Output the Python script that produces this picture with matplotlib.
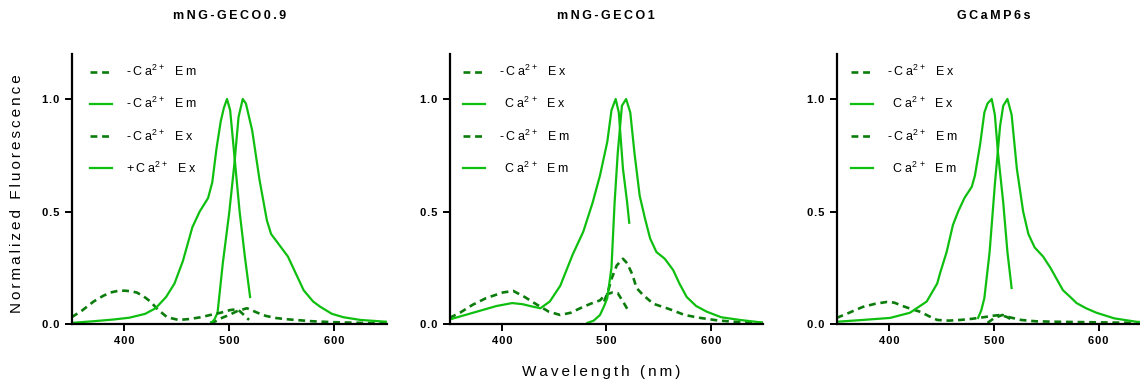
import matplotlib
matplotlib.use("Agg")
import matplotlib.pyplot as plt
import numpy as np

plt.rcParams['font.family'] = ['Liberation Sans', 'DejaVu Sans']
plt.rcParams['mathtext.fontset'] = 'custom'
plt.rcParams['mathtext.rm'] = 'Liberation Sans'
plt.rcParams['mathtext.it'] = 'Liberation Sans:italic'
plt.rcParams['mathtext.bf'] = 'Liberation Sans:bold'

HS = "\u200a"
TS = "\u2009"

def sp(s, gap=HS):
    return gap.join(list(s))

titles = ["mNG-GECO0.9", "mNG-GECO1", "GCaMP6s"]

# ---------------- Panel 1: mNG-GECO0.9 ----------------
p1_dash_ex_x = [350, 360, 371, 380, 387, 395, 401, 407, 412, 418, 425, 432, 441, 452, 462, 473, 482, 492, 501, 508, 513, 519]
p1_dash_ex_y = [0.03, 0.06, 0.10, 0.125, 0.14, 0.148, 0.148, 0.145, 0.14, 0.125, 0.10, 0.065, 0.03, 0.018, 0.022, 0.03, 0.04, 0.05, 0.062, 0.066, 0.045, 0.018]
p1_dash_em_x = [482, 487, 492, 500, 508, 517, 527, 535, 544, 553, 563, 580, 600, 625, 650]
p1_dash_em_y = [0.005, 0.012, 0.025, 0.04, 0.058, 0.07, 0.05, 0.036, 0.027, 0.022, 0.018, 0.012, 0.008, 0.005, 0.003]
p1_ex_x = [350, 370, 390, 405, 420, 430, 440, 448, 456, 465, 472, 480, 484, 488, 492, 495, 498, 501, 505, 510, 515, 520]
p1_ex_y = [0.005, 0.012, 0.02, 0.028, 0.045, 0.07, 0.12, 0.18, 0.28, 0.43, 0.50, 0.56, 0.63, 0.78, 0.90, 0.96, 1.0, 0.95, 0.75, 0.50, 0.30, 0.12]
p1_em_x = [482, 486, 489, 494, 500, 505, 509, 513, 516, 522, 529, 536, 540, 548, 556, 563, 571, 580, 587, 598, 609, 625, 650]
p1_em_y = [0.0, 0.02, 0.05, 0.27, 0.49, 0.71, 0.92, 1.0, 0.98, 0.86, 0.64, 0.46, 0.40, 0.35, 0.30, 0.23, 0.15, 0.10, 0.076, 0.045, 0.03, 0.018, 0.01]

# ---------------- Panel 2: mNG-GECO1 ----------------
p2_dash_ex_x = [350, 360, 372, 385, 401, 411, 422, 434, 445, 456, 466, 475, 485, 494, 499, 506, 511, 516, 521]
p2_dash_ex_y = [0.027, 0.05, 0.085, 0.115, 0.14, 0.147, 0.12, 0.085, 0.055, 0.04, 0.05, 0.07, 0.09, 0.105, 0.13, 0.14, 0.137, 0.10, 0.06]
p2_ex_x = [350, 365, 380, 395, 410, 420, 427, 437, 446, 456, 468, 478, 487, 494, 501, 505, 509, 512, 516, 520, 522]
p2_ex_y = [0.02, 0.04, 0.06, 0.08, 0.093, 0.088, 0.08, 0.07, 0.10, 0.17, 0.31, 0.41, 0.54, 0.66, 0.81, 0.95, 1.0, 0.94, 0.69, 0.54, 0.45]
p2_dash_em_x = [498, 502, 505, 510, 516, 520, 525, 529, 535, 545, 558, 564, 575, 590, 605, 621, 635, 650]
p2_dash_em_y = [0.10, 0.15, 0.20, 0.26, 0.29, 0.27, 0.22, 0.16, 0.13, 0.09, 0.07, 0.06, 0.04, 0.027, 0.017, 0.01, 0.007, 0.005]
p2_em_x = [482, 488, 494, 498, 501, 505, 508, 511, 515, 519, 523, 527, 532, 537, 542, 548, 556, 564, 570, 577, 586, 596, 610, 628, 650]
p2_em_y = [0.005, 0.015, 0.04, 0.08, 0.115, 0.25, 0.54, 0.76, 0.97, 1.0, 0.94, 0.76, 0.57, 0.47, 0.38, 0.32, 0.29, 0.24, 0.18, 0.12, 0.08, 0.055, 0.03, 0.018, 0.006]

# ---------------- Panel 3: GCaMP6s ----------------
p3_dash_ex_x = [350, 362, 375, 387, 398, 405, 413, 421, 430, 438, 446, 457, 468, 479, 490, 500, 506, 512, 517]
p3_dash_ex_y = [0.027, 0.05, 0.076, 0.09, 0.098, 0.095, 0.08, 0.067, 0.054, 0.035, 0.018, 0.015, 0.018, 0.023, 0.03, 0.037, 0.04, 0.032, 0.02]
p3_ex_x = [350, 375, 401, 420, 436, 446, 449, 455, 461, 466, 472, 479, 482, 487, 491, 494, 498, 501, 504, 509, 513, 517]
p3_ex_y = [0.01, 0.018, 0.027, 0.05, 0.10, 0.18, 0.23, 0.32, 0.44, 0.50, 0.56, 0.61, 0.66, 0.80, 0.94, 0.98, 1.0, 0.93, 0.76, 0.54, 0.32, 0.16]
p3_dash_em_x = [494, 500, 508, 515, 526, 540, 560, 590, 620, 650]
p3_dash_em_y = [0.005, 0.025, 0.04, 0.03, 0.018, 0.012, 0.01, 0.008, 0.006, 0.005]
p3_em_x = [485, 488, 491, 496, 501, 506, 509, 513, 517, 522, 528, 533, 539, 547, 554, 560, 566, 573, 579, 588, 598, 615, 636, 650]
p3_em_y = [0.027, 0.06, 0.115, 0.32, 0.62, 0.88, 0.97, 1.0, 0.93, 0.69, 0.50, 0.40, 0.34, 0.30, 0.25, 0.20, 0.15, 0.12, 0.093, 0.07, 0.05, 0.025, 0.01, 0.006]

legend_labels = [
    ["-Ca^ Em", "-Ca^ Em", "-Ca^ Ex", "+Ca^ Ex"],
    ["-Ca^ Ex", " Ca^ Ex", "-Ca^ Em", " Ca^ Em"],
    ["-Ca^ Ex", " Ca^ Ex", "-Ca^ Em", " Ca^ Em"],
]

def fmt_label(s):
    pre, post = s.split("^")
    return sp(pre, TS) + r"$^{2\,+}$" + TS + sp(post, TS)

xticks = [400, 500, 600]
yticks = [0.0, 0.5, 1.0]
ytick_labels = ["0.0", "0.5", "1.0"]

SOLID = "#0fbf0f"
DASH = "#0c7d0c"

fig = plt.figure(figsize=(11.4, 3.83), dpi=100)
W, H = 1140.0, 383.0
bottom = 59 / H
height = 270 / H
lefts = [71.6, 449.5, 836.6]
widths = [315.0, 313.5, 314.4]
leg_x = [0.035, 0.02, 0.022]

panels = [
    [(p1_dash_em_x, p1_dash_em_y, 'd'), (p1_em_x, p1_em_y, 's'), (p1_dash_ex_x, p1_dash_ex_y, 'd'), (p1_ex_x, p1_ex_y, 's')],
    [(p2_dash_ex_x, p2_dash_ex_y, 'd'), (p2_ex_x, p2_ex_y, 's'), (p2_dash_em_x, p2_dash_em_y, 'd'), (p2_em_x, p2_em_y, 's')],
    [(p3_dash_ex_x, p3_dash_ex_y, 'd'), (p3_ex_x, p3_ex_y, 's'), (p3_dash_em_x, p3_dash_em_y, 'd'), (p3_em_x, p3_em_y, 's')],
]

for i in range(3):
    ax = fig.add_axes([lefts[i] / W, bottom, widths[i] / W, height])
    for (xs, ys, kind), lab in zip(panels[i], legend_labels[i]):
        if kind == 'd':
            ax.plot(xs, ys, color=DASH, lw=1.9, linestyle=(0, (2.6, 1.8)), label=fmt_label(lab))
        else:
            ax.plot(xs, ys, color=SOLID, lw=1.6, label=fmt_label(lab))
    ax.set_xlim(350, 650)
    ax.set_ylim(0, 1.2)
    ax.set_xticks(xticks)
    ax.set_xticklabels([sp(str(t)) for t in xticks], fontsize=8, fontweight='bold')
    ax.set_yticks(yticks)
    ax.set_yticklabels([sp(t) for t in ytick_labels], fontsize=8, fontweight='bold')
    for s in ['top', 'right']:
        ax.spines[s].set_visible(False)
    for s in ['left', 'bottom']:
        ax.spines[s].set_linewidth(1.6)
    ax.tick_params(length=5, width=1.4, pad=4)
    ax.set_title(sp(titles[i], TS), fontsize=9, fontweight='bold', pad=25)
    ax.legend(loc='upper left', frameon=False, fontsize=9, handlelength=1.75,
              labelspacing=1.35, bbox_to_anchor=(leg_x[i], 0.99), borderaxespad=0.2,
              handletextpad=1.1)
    ax.patch.set_alpha(0)

fig.text(17 / W, 1 - 194 / H, sp("Normalized Fluorescence", TS), rotation=90, va='center', ha='center', fontsize=11)
fig.text(601 / W, 1 - 372 / H, sp("Wavelength (nm)", TS), va='center', ha='center', fontsize=11)

fig.savefig("out.png", dpi=100)
